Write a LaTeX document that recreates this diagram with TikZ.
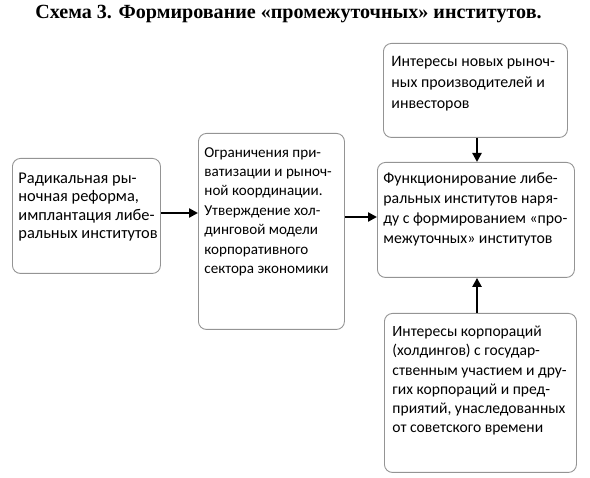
\documentclass[tikz,border=0pt]{standalone}
\usepackage{fontspec}
\setmainfont{Carlito}
\newfontfamily\titlefont{Liberation Serif}
\usetikzlibrary{arrows.meta}
\newcommand{\bxt}[5]{\parbox[t][#2][t]{#1}{\parindent=0pt\leftskip=#3\relax\vspace*{#4}\rule{0pt}{1em}#5\par}}
\newcommand{\fs}[2]{\fontsize{#1}{#2}\selectfont}
\tikzset{
  box/.style={draw=black!42, line width=0.9pt, rounded corners=8pt, inner sep=0pt, anchor=north west},
  conn/.style={line width=2.6pt, -{Triangle[length=9pt,width=9pt]}},
}
\begin{document}
\begin{tikzpicture}[x=1pt,y=-1pt]
\useasboundingbox (0,0) rectangle (590,478);
\node[font=\titlefont\bfseries\fs{20.1}{24}, anchor=base] (title) at (288.5,19) {Схема 3. Формирование «промежуточных» институтов.};
\node[box, font=\fs{16.4}{18.3}] (a) at (12,158) {\bxt{148pt}{115pt}{6pt}{8.6pt}{Радикальная ры-\\ночная реформа,\\имплантация либе-\\ральных институтов}};
\node[box, font=\fs{15.1}{19.4}] (b) at (198,133) {\bxt{146pt}{196pt}{6pt}{8.6pt}{Ограничения при-\\ватизации и рыноч-\\ной координации.\\Утверждение хол-\\динговой модели\\корпоративного\\сектора экономики}};
\node[box, font=\fs{15.9}{21.2}] (t) at (383,43) {\bxt{184pt}{94pt}{8pt}{7pt}{Интересы новых рыноч-\\ных производителей и\\инвесторов}};
\node[box, font=\fs{15.8}{20}] (c) at (377,162) {\bxt{197pt}{115pt}{6pt}{5.5pt}{Функционирование либе-\\ральных институтов наря-\\ду с формированием «про-\\межуточных» институтов}};
\node[box, font=\fs{15.6}{19.3}] (d) at (384,313) {\bxt{192pt}{159pt}{8pt}{7.4pt}{Интересы корпораций\\(холдингов) с государ-\\ственным участием и дру-\\гих корпораций и пред-\\приятий, унаследованных\\от советского времени}};
\draw[conn] (a.east |- 0,213) -- (b.west |- 0,213);
\draw[conn] (b.east |- 0,217) -- (c.west |- 0,217);
\draw[conn] (t.south -| 477,0) -- (c.north -| 477,0);
\draw[conn] (d.north -| 477,0) -- (c.south -| 477,0);
\end{tikzpicture}
\end{document}
